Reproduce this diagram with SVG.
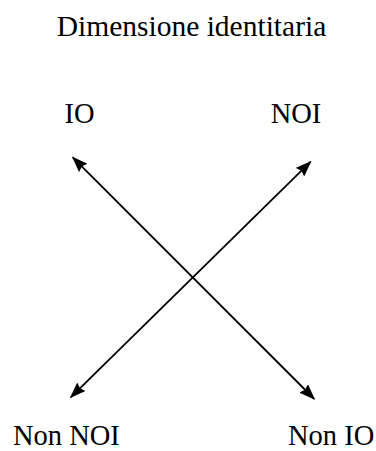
<svg xmlns="http://www.w3.org/2000/svg" width="376" height="451" viewBox="0 0 376 451">
<style>
text{font-family:"Liberation Serif","DejaVu Serif",serif;font-size:28.5px;fill:#000}
.c line{stroke:#000;stroke-width:1.8}
</style>
<defs>
<marker id="ah" viewBox="0 0 16 12" refX="15" refY="6" markerWidth="16" markerHeight="12" markerUnits="userSpaceOnUse" orient="auto-start-reverse">
<path d="M0,0 L16,6 L0,12 L2,6 z" fill="#000"/>
</marker>
</defs>
<rect width="376" height="451" fill="#fff"/>
<g id="title"><text x="191.5" y="36" text-anchor="middle" style="font-size:29.5px">Dimensione identitaria</text></g>
<g id="io"><text x="79.5" y="123" text-anchor="middle">IO</text></g>
<g id="noi"><text x="296" y="123" text-anchor="middle">NOI</text></g>
<g id="non-noi"><text x="13" y="445">Non NOI</text></g>
<g id="non-io"><text x="288" y="445">Non IO</text></g>
<g class="c" id="connectors">
<line x1="72.7" y1="157.3" x2="314.3" y2="399" marker-start="url(#ah)" marker-end="url(#ah)"/>
<line x1="310.7" y1="161.7" x2="70.7" y2="397.3" marker-start="url(#ah)" marker-end="url(#ah)"/>
</g>
</svg>
